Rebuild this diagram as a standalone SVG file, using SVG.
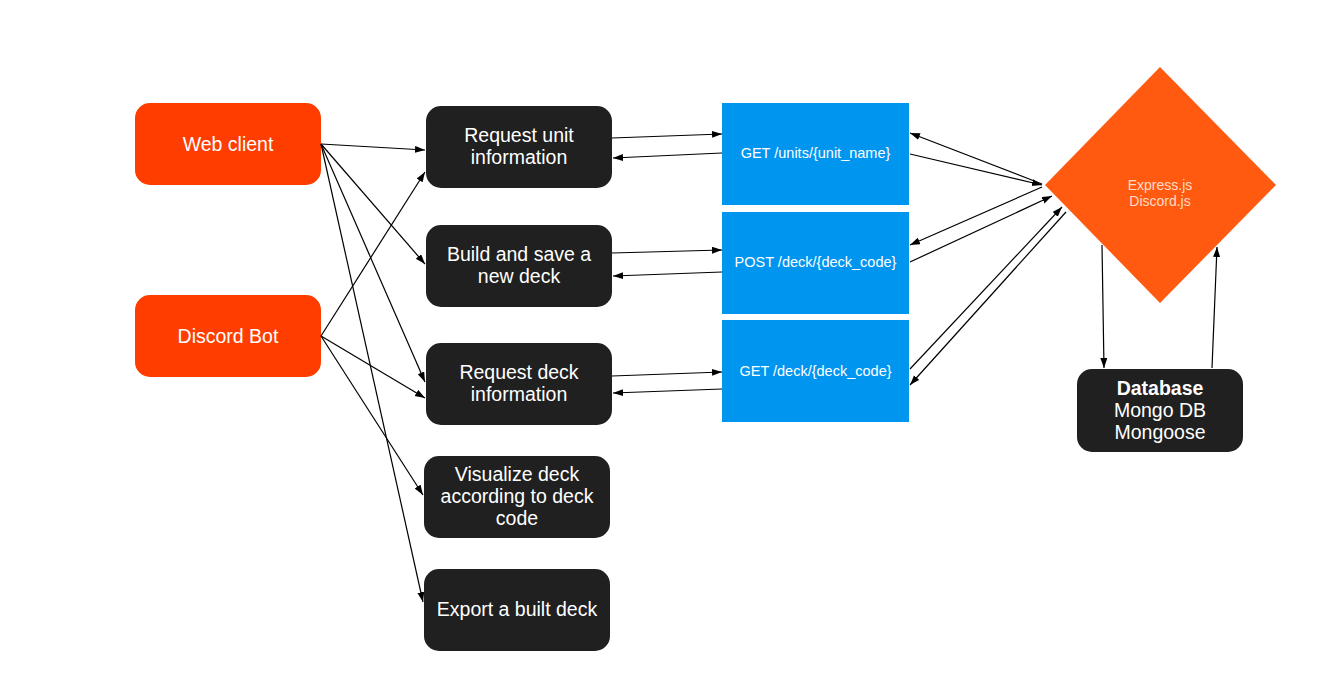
<svg xmlns="http://www.w3.org/2000/svg" width="1335" height="679" viewBox="0 0 1335 679">
<defs>
<marker id="ah" markerUnits="userSpaceOnUse" markerWidth="11" markerHeight="8" refX="10" refY="3.5" orient="auto">
<path d="M0,0 L10,3.5 L0,7 z" fill="#000"/>
</marker>
<style>
.client{fill:#FF3D00}
.act{fill:#202020}
.api{fill:#0095EF}
.srv{fill:#FF5A0F}
.t{font-family:"Liberation Sans",Arial,sans-serif;font-size:19.5px;fill:#fff;text-anchor:middle}
.ta{font-family:"Liberation Sans",Arial,sans-serif;font-size:14.5px;fill:#fff;text-anchor:middle}
.ts{font-family:"Liberation Sans",Arial,sans-serif;font-size:14px;fill:#FFDCC8;text-anchor:middle}
.c{stroke:#000;stroke-width:1.2;fill:none;marker-end:url(#ah)}
</style>
</defs>
<rect width="1335" height="679" fill="#fff"/>
<g id="web-client"><rect class="client" x="135" y="103" width="186" height="82" rx="15"/><text class="t" x="228" y="151">Web client</text></g>
<g id="discord-bot"><rect class="client" x="135" y="295" width="186" height="82" rx="15"/><text class="t" x="228" y="343">Discord Bot</text></g>
<g id="req-unit"><rect class="act" x="426" y="106" width="186" height="82" rx="15"/><text class="t" x="519" y="142">Request unit</text><text class="t" x="519" y="164">information</text></g>
<g id="build-deck"><rect class="act" x="426" y="225" width="186" height="82" rx="15"/><text class="t" x="519" y="261">Build and save a</text><text class="t" x="519" y="283">new deck</text></g>
<g id="req-deck"><rect class="act" x="426" y="343" width="186" height="82" rx="15"/><text class="t" x="519" y="379">Request deck</text><text class="t" x="519" y="401">information</text></g>
<g id="visualize"><rect class="act" x="424" y="456" width="186" height="82" rx="15"/><text class="t" x="517" y="481">Visualize deck</text><text class="t" x="517" y="503">according to deck</text><text class="t" x="517" y="525">code</text></g>
<g id="export"><rect class="act" x="424" y="569" width="186" height="82" rx="15"/><text class="t" x="517" y="616">Export a built deck</text></g>
<g id="get-units"><rect class="api" x="722" y="103" width="187" height="102"/><text class="ta" x="815.5" y="158">GET /units/{unit_name}</text></g>
<g id="post-deck"><rect class="api" x="722" y="212" width="187" height="102"/><text class="ta" x="815.5" y="267">POST /deck/{deck_code}</text></g>
<g id="get-deck"><rect class="api" x="722" y="320" width="187" height="102"/><text class="ta" x="815.5" y="376">GET /deck/{deck_code}</text></g>
<g id="server"><polygon class="srv" points="1160,67 1276,185 1160,303 1045,185"/><text class="ts" x="1160" y="190">Express.js</text><text class="ts" x="1160" y="206">Discord.js</text></g>
<g id="database"><rect class="act" x="1077" y="369" width="166" height="83" rx="15"/><text class="t" x="1160" y="395" font-weight="bold">Database</text><text class="t" x="1160" y="417">Mongo DB</text><text class="t" x="1160" y="439">Mongoose</text></g>
<g id="connectors">
<line class="c" x1="321" y1="144" x2="425" y2="150"/>
<line class="c" x1="321" y1="144" x2="425" y2="264"/>
<line class="c" x1="321" y1="144" x2="425" y2="382"/>
<line class="c" x1="321" y1="144" x2="423" y2="602"/>
<line class="c" x1="321" y1="336" x2="425" y2="172"/>
<line class="c" x1="321" y1="336" x2="425" y2="398"/>
<line class="c" x1="321" y1="336" x2="423" y2="495"/>
<line class="c" x1="612" y1="138" x2="722" y2="134"/>
<line class="c" x1="722" y1="153" x2="613" y2="158"/>
<line class="c" x1="612" y1="253" x2="722" y2="250"/>
<line class="c" x1="722" y1="272" x2="613" y2="276"/>
<line class="c" x1="612" y1="376" x2="722" y2="372"/>
<line class="c" x1="722" y1="389" x2="613" y2="393"/>
<line class="c" x1="1042" y1="184" x2="910" y2="133"/>
<line class="c" x1="910" y1="154" x2="1042" y2="185"/>
<line class="c" x1="1042" y1="187" x2="910" y2="245"/>
<line class="c" x1="910" y1="262" x2="1052" y2="196"/>
<line class="c" x1="910" y1="369" x2="1062" y2="207"/>
<line class="c" x1="1066" y1="212" x2="910" y2="385"/>
<line class="c" x1="1102" y1="245" x2="1104" y2="368"/>
<line class="c" x1="1212" y1="368" x2="1217" y2="247"/>
</g>
</svg>
